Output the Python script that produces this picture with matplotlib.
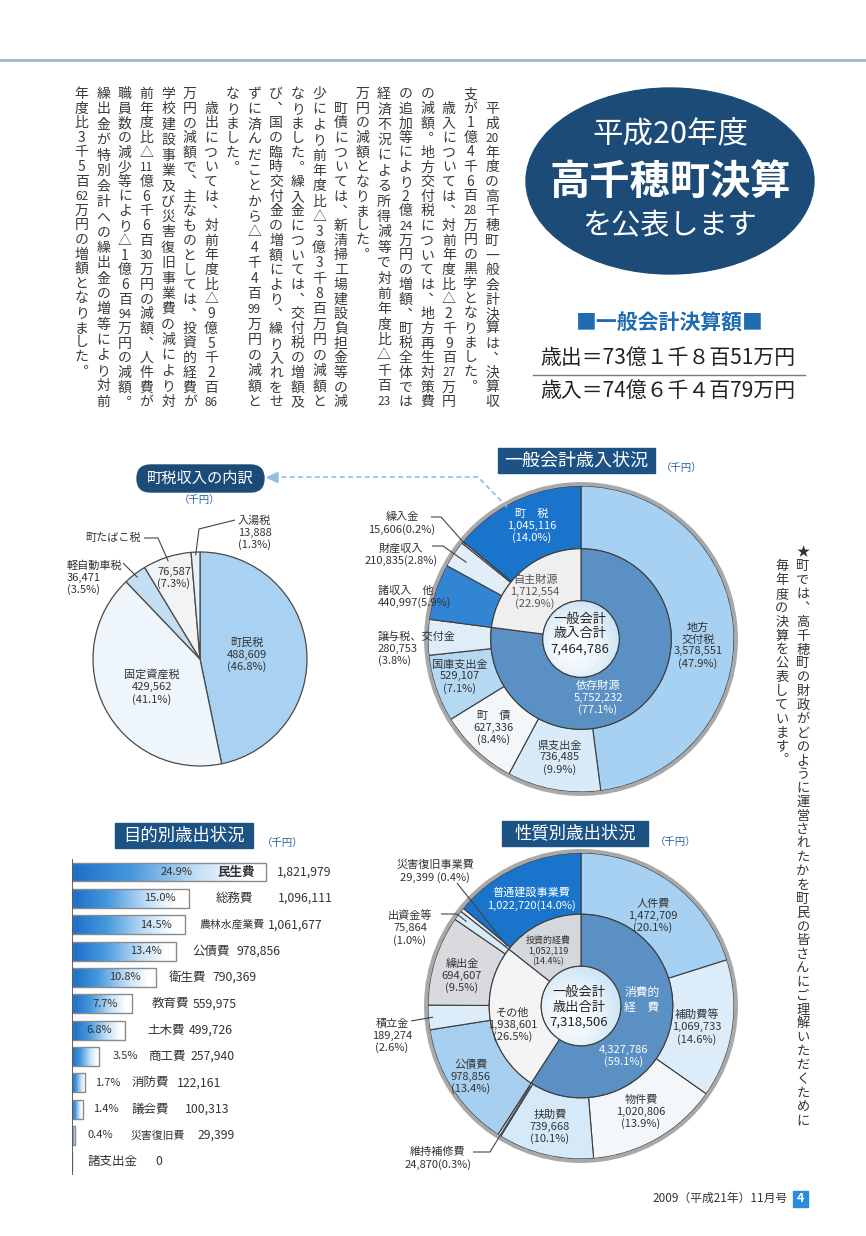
import re
import numpy as np
import matplotlib
matplotlib.use('Agg')
import matplotlib.pyplot as plt
from matplotlib.patches import Ellipse, FancyBboxPatch, Rectangle, Circle, Polygon
from matplotlib.colors import LinearSegmentedColormap

plt.rcParams['font.family'] = ['Noto Sans CJK JP', 'DejaVu Sans']

W, H = 866, 1236
INK = '#333333'
NAVY = '#1d4b77'

# ─── Data (千円) ────────────────────────────────────────────────────────────────
tax_names = ['町民税', '固定資産税', '軽自動車税', '町たばこ税', '入湯税']
tax_values = [488609, 429562, 36471, 76587, 13888]

rev_names = ['地方\n交付税', '県支出金', '町　債', '国庫支出金', '譲与税、交付金',
             '諸収入　他', '財産収入', '繰入金', '町　税']
rev_values = [3578551, 736485, 627336, 529107, 280753, 440997, 210835, 15606, 1045116]
rev_group_names = ['依存財源', '自主財源']
rev_group_values = [5752232, 1712554]

exp_names = ['人件費', '補助費等', '物件費', '扶助費', '維持補修費', '公債費',
             '積立金', '繰出金', '出資金等', '災害復旧事業費', '普通建設事業費']
exp_values = [1472709, 1069733, 1020806, 739668, 24870, 978856,
              189274, 694607, 75864, 29399, 1022720]
exp_group_names = ['消費的\n経　費', 'その他', '投資的経費']
exp_group_values = [4327786, 1938601, 1052119]

purpose_names = ['民生費', '総務費', '農林水産業費', '公債費', '衛生費', '教育費',
                 '土木費', '商工費', '消防費', '議会費', '災害復旧費', '諸支出金']
purpose_values = [1821979, 1096111, 1061677, 978856, 790369, 559975,
                  499726, 257940, 122161, 100313, 29399, 0]

body_columns = [
    "　平成20年度の高千穂町一般会計決算は、決算収",
    "支が1億4千6百28万円の黒字となりました。",
    "　歳入については、対前年度比△2千9百27万円",
    "の減額。地方交付税については、地方再生対策費",
    "の追加等により2億24万円の増額、町税全体では",
    "経済不況による所得減等で対前年度比△千百23",
    "万円の減額となりました。",
    "　町債については、新清掃工場建設負担金等の減",
    "少により前年度比△3億3千8百万円の減額と",
    "なりました。繰入金については、交付税の増額及",
    "び、国の臨時交付金の増額により、繰り入れをせ",
    "ずに済んだことから△4千4百99万円の減額と",
    "なりました。",
    "　歳出については、対前年度比△9億5千2百86",
    "万円の減額で、主なものとしては、投資的経費が",
    "学校建設事業及び災害復旧事業費の減により対",
    "前年度比△11億6千6百30万円の減額、人件費が",
    "職員数の減少等により△1億6百94万円の減額。",
    "繰出金が特別会計への繰出金の増等により対前",
    "年度比3千5百62万円の増額となりました。",
]
body_justified = [True, False, True, True, True, True, False, True, True, True,
                  True, True, False, True, True, True, True, True, True, False]
side_columns = ["★町では、高千穂町の財政がどのように運営されたかを町民の皆さんにご理解いただくために",
                "毎年度の決算を公表しています。"]

# ─── Colours ────────────────────────────────────────────────────────────────────
tax_colors = ['#a9d2f2', '#eef5fb', '#c3ddf1', '#f1f3f5', '#e6f0f8']
rev_colors = ['#a7d1f2', '#d9ebf9', '#f3f7fa', '#b5d8f3', '#dfedf9',
              '#3185d2', '#e1eef9', '#c4def3', '#1a74cc']
rev_group_colors = ['#5a90c4', '#efefef']
exp_colors = ['#a7d1f2', '#dcecf9', '#f4f7fa', '#d6e9f8', '#e0eef9', '#a7cff0',
              '#dcecf9', '#d8dadd', '#d8eaf8', '#e5f0f9', '#1a74cc']
exp_group_colors = ['#5a90c4', '#f4f4f4', '#d4d7db']

# vertical-writing forms of the comma / full stop
VERT = {'、': '\ufe11', '。': '\ufe12'}

# ─── Figure ─────────────────────────────────────────────────────────────────────
fig = plt.figure(figsize=(W / 100, H / 100), dpi=100)
fig.patch.set_facecolor('white')

ov = fig.add_axes([0, 0, 1, 1], zorder=5)
ov.set_xlim(0, W)
ov.set_ylim(H, 0)
ov.axis('off')


def T(x, y, s, size=8, color=INK, ha='center', va='center', **kw):
    ov.text(x, y, s, fontsize=size, color=color, ha=ha, va=va, **kw)


def fmt3(v, tot):
    return f"{v:,}\n({v / tot * 100:.1f}%)"


def fmt2(v, tot, sep=''):
    return f"{v:,}{sep}({v / tot * 100:.1f}%)"


def mid_angle(values, i):
    tot = sum(values)
    return 90 - 360 * (sum(values[:i]) + values[i] / 2) / tot


def pie_pt(cx, cy, R, ang, rf):
    a = np.deg2rad(ang)
    return cx + R * rf * np.cos(a), cy - R * rf * np.sin(a)


def leader(points, lw=0.8):
    xs, ys = zip(*points)
    ov.plot(xs, ys, color='#444444', lw=lw, solid_capstyle='butt')


def pie_axes(cx, cy, r, pad=1.06):
    ax = fig.add_axes([(cx - r * pad) / W, 1 - (cy + r * pad) / H, 2 * r * pad / W, 2 * r * pad / H])
    return ax


def finish(ax, pad=1.06):
    ax.set_xlim(-pad, pad)
    ax.set_ylim(-pad, pad)
    ax.set_aspect('equal')
    ax.axis('off')


def vertical(x, y0, cells, pitch, size, color, num_size=None):
    for j, c in enumerate(cells):
        if c == '　':
            continue
        y = y0 + j * pitch
        if len(c) > 1:
            T(x, y, c, size=num_size or size * 0.85, color=color)
        else:
            T(x, y, VERT.get(c, c), size=size, color=color)


center_cmap = LinearSegmentedColormap.from_list('c', ['#ffffff', '#eef6fc', '#cfe5f6'])


def donut(cx, cy, R, outer_v, outer_c, inner_v, inner_c, r_mid, r_in):
    ax = pie_axes(cx, cy, R)
    wp = dict(edgecolor='#3c3c3c', linewidth=0.8)
    ax.pie(outer_v, colors=outer_c, radius=1, startangle=90, counterclock=False,
           wedgeprops=dict(width=1 - r_mid, **wp))
    ax.pie(inner_v, colors=inner_c, radius=r_mid, startangle=90, counterclock=False,
           wedgeprops=dict(width=r_mid - r_in, **wp))
    g = np.linspace(-1, 1, 201)
    xx, yy = np.meshgrid(g, g)
    im = ax.imshow(np.hypot(xx + 0.2, yy - 0.2), extent=[-r_in, r_in, -r_in, r_in],
                   cmap=center_cmap, vmin=0, vmax=1.2, zorder=3)
    clip = Circle((0, 0), r_in, facecolor='none', edgecolor='#3c3c3c', lw=0.8, zorder=4)
    ax.add_patch(clip)
    im.set_clip_path(clip)
    ax.add_patch(Circle((0, 0), 1 + 2.0 / R, fill=False, edgecolor='#a8a8a8', lw=2.8, zorder=5))
    finish(ax)
    return ax


# ─── Page furniture ─────────────────────────────────────────────────────────────
ov.plot([0, W], [60, 60], color='#a3b6c6', lw=2)

# vertical body text (right to left columns)
for k, (col, just) in enumerate(zip(body_columns, body_justified)):
    cells = re.findall(r'\d{2,}|.', col)
    pitch = 323 / len(cells) if just else 14.6
    vertical(492 - 21.6 * k, 94, cells, pitch, 10, '#3a3a3a', num_size=8.5)

# side vertical text
for k, col in enumerate(side_columns):
    vertical(803 - 21 * k, 553 + 13.85 * k, list(col), 13.85, 9.5, '#333333')

# title ellipse
ov.add_patch(Ellipse((670, 181), 288, 186, color=NAVY, zorder=1))
T(670, 134, '平成20年度', size=22, color='white', zorder=2)
T(670, 182, '高千穂町決算', size=29, color='white', weight='bold', zorder=2)
T(670, 226, 'を公表します', size=21, color='white', zorder=2)

T(670, 323, '■一般会計決算額■', size=15, color='#1f6db0', weight='bold')
T(668, 358, '歳出＝73億１千８百51万円', size=15, color='#222222')
ov.plot([533, 805], [375, 375], color='#7a7a7a', lw=1)
T(668, 391, '歳入＝74億６千４百79万円', size=15, color='#222222')

# footer
T(720, 1198, '2009（平成21年）11月号', size=8.5, color='#333333')
ov.add_patch(Rectangle((793, 1191), 15, 16, color='#2b8bdc'))
T(800.5, 1199, '4', size=9, color='white', weight='bold')

# chart titles
ov.add_patch(FancyBboxPatch((137, 465), 127, 27, boxstyle='round,pad=0,rounding_size=13.5', color=NAVY))
T(200.5, 478, '町税収入の内訳', size=11, color='white')
T(200, 500, '（千円）', size=7.5, color='#2563a0')

ov.add_patch(Rectangle((498, 448), 157, 25, color='#1d5384'))
T(576, 460.5, '一般会計歳入状況', size=13, color='white')
T(682, 468, '（千円）', size=7.5, color='#2563a0')

ov.add_patch(Rectangle((115, 823), 138, 25, color='#1d5384'))
T(184, 835.5, '目的別歳出状況', size=12.5, color='white')
T(283, 843, '（千円）', size=7.5, color='#2563a0')

ov.add_patch(Rectangle((502, 821), 146, 25, color='#1d5384'))
T(575, 833.5, '性質別歳出状況', size=12.5, color='white')
T(676, 842, '（千円）', size=7.5, color='#2563a0')

# dashed connector between the two revenue charts
ov.plot([507, 478, 278], [507, 477, 477], color='#8fc0e2', lw=1.2, ls=(0, (3, 2)))
ov.add_patch(Polygon([(267, 477.5), (278, 472.5), (278, 482.5)], color='#8fc0e2'))

# ─── 町税収入の内訳 (pie) ───────────────────────────────────────────────────────
TX, TY, TR = 200, 659, 107
ax_tax = pie_axes(TX, TY, TR)
ax_tax.pie(tax_values, colors=tax_colors, startangle=90, counterclock=False,
           wedgeprops=dict(edgecolor='#4a4a4a', linewidth=0.9))
finish(ax_tax)

tot = sum(tax_values)
T(247, 655, tax_names[0] + '\n' + fmt3(tax_values[0], tot))
T(152, 687, tax_names[1] + '\n' + fmt3(tax_values[1], tot))
T(67, 578, tax_names[2] + '\n' + fmt3(tax_values[2], tot), ha='left', multialignment='left')
T(141, 538, tax_names[3], ha='right')
T(174, 578, fmt3(tax_values[3], tot))
T(238, 533, tax_names[4] + '\n' + fmt3(tax_values[4], tot), ha='left', multialignment='left')
leader([(235, 520), (199, 529), pie_pt(TX, TY, TR, mid_angle(tax_values, 4), 0.97)])
leader([(144, 538), (158, 538), pie_pt(TX, TY, TR, mid_angle(tax_values, 3), 0.96)])
leader([(123, 563), pie_pt(TX, TY, TR, mid_angle(tax_values, 2), 0.96)])

# ─── 一般会計歳入状況 (donut) ─────────────────────────────────────────────────
RX, RY, RR = 581, 639, 153
donut(RX, RY, RR, rev_values, rev_colors, rev_group_values, rev_group_colors, 0.59, 0.25)
tot = sum(rev_values)
T(698, 646, rev_names[0] + '\n' + fmt3(rev_values[0], tot))
T(560, 758, rev_names[1] + '\n' + fmt3(rev_values[1], tot))
T(494, 728, rev_names[2] + '\n' + fmt3(rev_values[2], tot))
T(460, 677, rev_names[3] + '\n' + fmt3(rev_values[3], tot))
T(378, 649, rev_names[4] + '\n' + fmt3(rev_values[4], tot), ha='left', multialignment='left')
T(378, 597, rev_names[5] + '\n' + fmt2(rev_values[5], tot), ha='left', multialignment='left')
T(401, 555, rev_names[6] + '\n' + fmt2(rev_values[6], tot))
T(402, 523, rev_names[7] + '\n' + fmt2(rev_values[7], tot))
T(532, 526, rev_names[8] + '\n' + fmt3(rev_values[8], tot), color='white')
leader([(431, 517), (441, 517), pie_pt(RX, RY, RR, mid_angle(rev_values, 7), 0.97)])
leader([(432, 546), (443, 546), pie_pt(RX, RY, RR, mid_angle(rev_values, 6), 0.9)])

T(598, 698, rev_group_names[0] + '\n' + fmt3(rev_group_values[0], tot), color='white')
T(535, 592, rev_group_names[1] + '\n' + fmt3(rev_group_values[1], tot), color='#555555')
T(580, 634, f"一般会計\n歳入合計\n{tot:,}", size=9.5, color='#222222')

# ─── 性質別歳出状況 (donut) ─────────────────────────────────────────────────
EX, EY, ER = 581, 1006, 153
donut(EX, EY, ER, exp_values, exp_colors, exp_group_values, exp_group_colors, 0.6, 0.26)
tot = sum(exp_values)
T(653, 916, exp_names[0] + '\n' + fmt3(exp_values[0], tot))
T(697, 1027, exp_names[1] + '\n' + fmt3(exp_values[1], tot))
T(641, 1112, exp_names[2] + '\n' + fmt3(exp_values[2], tot))
T(550, 1127, exp_names[3] + '\n' + fmt3(exp_values[3], tot))
T(438, 1158, exp_names[4] + '\n' + fmt2(exp_values[4], tot))
T(471, 1077, exp_names[5] + '\n' + fmt3(exp_values[5], tot))
T(392, 1036, exp_names[6] + '\n' + fmt3(exp_values[6], tot))
T(462, 976, exp_names[7] + '\n' + fmt3(exp_values[7], tot))
T(410, 928, exp_names[8] + '\n' + fmt3(exp_values[8], tot))
T(435, 871, exp_names[9] + '\n' + fmt2(exp_values[9], tot, ' '))
T(531, 899, exp_names[10] + '\n' + fmt2(exp_values[10], tot), color='white')
leader([(473, 1152), (490, 1152), pie_pt(EX, EY, ER, mid_angle(exp_values, 4), 0.62)])
leader([(411, 1021), pie_pt(EX, EY, ER, mid_angle(exp_values, 6), 0.97)])
leader([(441, 914), (457, 914), pie_pt(EX, EY, ER, mid_angle(exp_values, 8), 0.93)])
leader([(457, 883), pie_pt(EX, EY, ER, mid_angle(exp_values, 9), 0.62)])

T(642, 1000, exp_group_names[0], color='white', size=8.5)
T(624, 1056, fmt3(exp_group_values[0], tot), color='white')
T(513, 1025, exp_group_names[1] + '\n' + fmt3(exp_group_values[1], tot))
T(548, 951, exp_group_names[2] + '\n' + fmt3(exp_group_values[2], tot), size=6.5)
T(579, 1007, f"一般会計\n歳出合計\n{tot:,}", size=9.5, color='#222222')

# ─── 目的別歳出状況 (gradient bars) ───────────────────────────────────────────
BAR_X0, ROW0, PITCH = 72, 872, 26.35
PX_PER_VAL = 194 / purpose_values[0]
AX_W = 330
top, bottom = ROW0 - PITCH / 2, ROW0 + PITCH * (len(purpose_values) - 0.5)
ax_bar = fig.add_axes([BAR_X0 / W, 1 - bottom / H, AX_W / W, (bottom - top) / H], zorder=2)
rows = np.arange(len(purpose_values))
bars = ax_bar.barh(rows, purpose_values, height=0.72, facecolor='none',
                   edgecolor='#8a8a8a', linewidth=1, zorder=3)
bar_cmap = LinearSegmentedColormap.from_list(
    'b', [(0, '#1a6fc7'), (0.3, '#4597dd'), (0.65, '#c5e0f6'), (0.9, '#ffffff'), (1, '#ffffff')])
grad = np.linspace(0, 1, 256).reshape(1, -1)
for p in bars:
    if p.get_width() <= 0:
        continue
    x0, y0, w, h = p.get_x(), p.get_y(), p.get_width(), p.get_height()
    im = ax_bar.imshow(grad, extent=[x0, x0 + w, y0 + h, y0], aspect='auto',
                       cmap=bar_cmap, zorder=2, interpolation='bilinear')
    im.set_clip_path(p)
ax_bar.axvline(0, color='#555555', lw=1.3, zorder=4)
ax_bar.set_xlim(0, AX_W / PX_PER_VAL)
ax_bar.set_ylim(len(purpose_values) - 0.5, -0.5)
ax_bar.axis('off')

pct_dx = [-73, -13, -13, -14, -15, -14, -13, 13, 10, 10, 12, 0]
name_dx = [-11, 27, 15, 16, 13, 20, 22, 49, 47, 49, 55, 16]
value_dx = [11, 89, 83, 60, 56, 61, 64, 91, 92, 102, 122, 83]
tot = sum(purpose_values)
for i, (nm, v) in enumerate(zip(purpose_names, purpose_values)):
    kw = dict(xy=(v, i), textcoords='offset pixels', va='center', color='#333333')
    if v > 0:
        ax_bar.annotate(f"{v / tot * 100:.1f}%", xytext=(pct_dx[i], 0),
                        ha='right' if pct_dx[i] < 0 else 'left', fontsize=8, **kw)
    ax_bar.annotate(nm, xytext=(name_dx[i], 0), ha='right' if name_dx[i] < 0 else 'left',
                    fontsize=9 if len(nm) <= 4 else 7.8,
                    weight='bold' if i == 0 else 'normal', **kw)
    ax_bar.annotate(f"{v:,}", xytext=(value_dx[i], 0), ha='left', fontsize=8.8, **kw)

fig.savefig('out.png', dpi=100, facecolor='white')
